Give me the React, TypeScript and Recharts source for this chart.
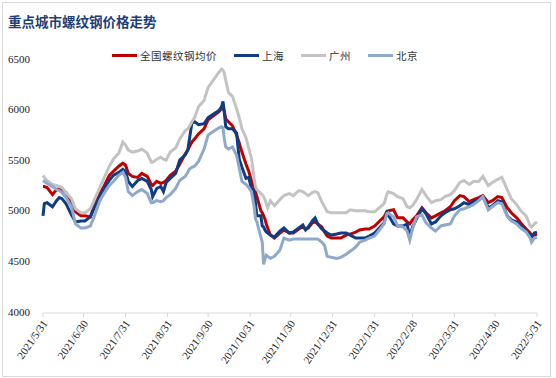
import React from 'react';
import { LineChart, Line, XAxis, YAxis } from 'recharts';

// trading dates sampled from the chart (Excel date axis)
const dates = [
  '2021/5/31', '2021/6/1', '2021/6/3', '2021/6/7', '2021/6/10', '2021/6/12', '2021/6/14', '2021/6/17', '2021/6/21', '2021/6/24', '2021/6/28',
  '2021/7/1', '2021/7/5', '2021/7/8', '2021/7/12', '2021/7/15', '2021/7/19', '2021/7/22', '2021/7/26', '2021/7/29', '2021/7/31',
  '2021/8/2', '2021/8/5', '2021/8/9', '2021/8/12', '2021/8/16', '2021/8/19', '2021/8/20', '2021/8/23', '2021/8/26', '2021/8/28', '2021/8/30',
  '2021/9/2', '2021/9/6', '2021/9/9', '2021/9/13', '2021/9/15', '2021/9/16', '2021/9/18', '2021/9/20', '2021/9/23', '2021/9/27', '2021/9/30',
  '2021/10/8', '2021/10/10', '2021/10/11', '2021/10/12', '2021/10/13', '2021/10/15', '2021/10/18', '2021/10/21', '2021/10/23', '2021/10/25', '2021/10/28', '2021/10/30',
  '2021/11/1', '2021/11/3', '2021/11/4', '2021/11/5', '2021/11/8', '2021/11/9', '2021/11/10', '2021/11/11', '2021/11/12', '2021/11/13', '2021/11/15', '2021/11/18', '2021/11/22', '2021/11/25', '2021/11/29',
  '2021/12/2', '2021/12/6', '2021/12/9', '2021/12/11', '2021/12/13', '2021/12/16', '2021/12/18', '2021/12/20', '2021/12/23', '2021/12/25', '2021/12/27', '2021/12/30',
  '2022/1/3', '2022/1/6', '2022/1/10', '2022/1/13', '2022/1/17', '2022/1/20', '2022/1/24', '2022/1/27', '2022/1/31',
  '2022/2/7', '2022/2/9', '2022/2/10', '2022/2/14', '2022/2/17', '2022/2/21', '2022/2/24', '2022/2/26', '2022/2/28',
  '2022/3/3', '2022/3/7', '2022/3/10', '2022/3/14', '2022/3/17', '2022/3/21', '2022/3/24', '2022/3/28', '2022/3/31',
  '2022/4/4', '2022/4/7', '2022/4/11', '2022/4/14', '2022/4/18', '2022/4/21', '2022/4/25', '2022/4/28',
  '2022/5/2', '2022/5/5', '2022/5/9', '2022/5/12', '2022/5/16', '2022/5/19', '2022/5/23', '2022/5/26', '2022/5/27', '2022/5/29', '2022/5/31',
];

const national = [
  5250, 5250, 5240, 5170, 5220, 5230, 5220, 5190, 5100, 5000, 4960,
  4960, 4950, 5070, 5180, 5250, 5360, 5400, 5450, 5480, 5460,
  5380, 5350, 5340, 5380, 5350, 5270, 5260, 5300, 5280, 5290, 5310,
  5360, 5400, 5470, 5570, 5610, 5640, 5690, 5720, 5770, 5820, 5910,
  5990, 6020, 6040, 5990, 5920, 5890, 5850, 5760, 5680, 5590, 5470, 5400,
  5310, 5240, 5200, 5150, 5010, 4990, 4960, 4930, 4880, 4840, 4770, 4740, 4790, 4820, 4790,
  4790, 4830, 4850, 4830, 4840, 4890, 4900, 4880, 4850, 4800, 4760, 4740,
  4740, 4740, 4770, 4780, 4800, 4820, 4830, 4830, 4860,
  4950, 5000, 5010, 5020, 4940, 4940, 4900, 4880, 4920,
  4960, 5040, 4990, 4940, 4960, 4990, 5010, 5050, 5110,
  5160, 5150, 5100, 5120, 5140, 5160, 5090, 5110,
  5150, 5140, 5040, 4990, 4940, 4890, 4830, 4790, 4760, 4770, 4780,
];

const shanghai = [
  4960, 5080, 5090, 5050, 5110, 5140, 5130, 5080, 4970, 4900, 4910,
  4910, 4950, 5040, 5150, 5230, 5310, 5360, 5390, 5420, 5400,
  5300, 5250, 5310, 5330, 5300, 5220, 5150, 5230, 5250, 5200, 5290,
  5330, 5380, 5510, 5560, 5610, 5700, 5880, 5890, 5860, 5870, 5930,
  6000, 6040, 6090, 5980, 5840, 5820, 5820, 5780, 5520, 5440, 5330, 5340,
  5230, 5200, 5080, 4960, 4960, 4860, 4850, 4820, 4800, 4790, 4770, 4750, 4810, 4840, 4790,
  4800, 4840, 4870, 4820, 4850, 4910, 4940, 4880, 4830, 4810, 4790, 4770,
  4780, 4790, 4790, 4770, 4740, 4740, 4740, 4760, 4790,
  4890, 4990, 4970, 4880, 4860, 4860, 4880, 4750, 4850,
  4930, 5030, 4980, 4880, 4900, 4960, 4990, 5020, 5030,
  5060, 5090, 5070, 5100, 5120, 5150, 5040, 5060,
  5110, 5100, 4960, 4920, 4900, 4860, 4810, 4770, 4750, 4790, 4800,
];

const guangzhou = [
  5360, 5340, 5310, 5270, 5260, 5250, 5240, 5190, 5130, 5030, 4990,
  4990, 5030, 5120, 5240, 5330, 5450, 5520, 5580, 5690, 5660,
  5610, 5590, 5600, 5620, 5580, 5490, 5490, 5520, 5540, 5520, 5510,
  5590, 5630, 5720, 5800, 5820, 5840, 5890, 5930, 6040, 6100, 6230,
  6380, 6410, 6400, 6370, 6300, 6180, 6140, 6020, 5930, 5820, 5730, 5630,
  5530, 5330, 5250, 5220, 5180, 5170, 5150, 5120, 5080, 5040, 5110, 5060, 5120, 5160, 5180,
  5160, 5210, 5200, 5180, 5160, 5190, 5200, 5190, 5100, 5050, 5000, 4990,
  4990, 4990, 4990, 5020, 5010, 5010, 5010, 5000, 5000,
  5080, 5170, 5200, 5180, 5150, 5130, 5050, 5040, 5060,
  5120, 5220, 5160, 5090, 5110, 5120, 5150, 5170, 5210,
  5290, 5310, 5270, 5300, 5300, 5350, 5260, 5290,
  5320, 5340, 5220, 5130, 5070, 5010, 4960, 4860, 4850, 4880, 4900,
];

const beijing = [
  5310, 5300, 5280, 5250, 5220, 5210, 5190, 5140, 5050, 4880, 4840,
  4840, 4860, 4960, 5110, 5180, 5260, 5300, 5360, 5390, 5340,
  5200, 5160, 5200, 5220, 5180, 5090, 5090, 5110, 5100, 5110, 5140,
  5170, 5230, 5310, 5350, 5390, 5420, 5440, 5450, 5500, 5620, 5760,
  5830, 5840, 5830, 5720, 5640, 5620, 5640, 5560, 5430, 5300, 5270, 5240,
  5200, 5050, 4930, 4900, 4750, 4700, 4480, 4530, 4570, 4560, 4540, 4560, 4620, 4740, 4720,
  4730, 4730, 4730, 4730, 4730, 4730, 4730, 4730, 4700, 4670, 4560, 4550,
  4540, 4550, 4580, 4610, 4650, 4700, 4720, 4740, 4760,
  4880, 4980, 4990, 4950, 4860, 4850, 4810, 4720, 4830,
  4950, 4970, 4890, 4840, 4810, 4860, 4870, 4880, 4960,
  5020, 5030, 5050, 5070, 5110, 5150, 5020, 5050,
  5090, 5080, 4960, 4910, 4880, 4840, 4800, 4740, 4700, 4740, 4750,
];

const tickDates = [
  '2021/5/31', '2021/6/30', '2021/7/31', '2021/8/31', '2021/9/30', '2021/10/31', '2021/11/30',
  '2021/12/31', '2022/1/31', '2022/2/28', '2022/3/31', '2022/4/30', '2022/5/31',
];
const yTicks = [4000, 4500, 5000, 5500, 6000, 6500];

const seriesNames = ['全国螺纹钢均价', '上海', '广州', '北京'];
const seriesColors = ['#C00000', '#0F3C82', '#C3C3C3', '#8FA9CD'];

const serif = "'Liberation Serif', 'Times New Roman', serif";

const dayOf = (s: string) => {
  const [y, m, d] = s.split('/').map(Number);
  return (Date.UTC(y, m - 1, d) - Date.UTC(2021, 4, 31)) / 86400000;
};

const chartData = dates.map((d, i) => ({
  day: dayOf(d),
  national: national[i],
  shanghai: shanghai[i],
  guangzhou: guangzhou[i],
  beijing: beijing[i],
}));
const tickDays = tickDates.map(dayOf);
const keys = ['national', 'shanghai', 'guangzhou', 'beijing'];

const DateTick = ({ x, y, payload }: any) => {
  const label = tickDates[tickDays.indexOf(payload.value)] || '';
  const tx = x + 3;
  const ty = y + 3;
  return (
    <text
      x={tx}
      y={ty}
      transform={`rotate(-55 ${tx} ${ty})`}
      textAnchor="end"
      dominantBaseline="middle"
      style={{ fontSize: 11, fontFamily: serif, fill: '#222' }}
    >
      {label}
    </text>
  );
};

const ValueTick = ({ x, y, payload }: any) => (
  <text x={30} y={y} textAnchor="end" dominantBaseline="middle" style={{ fontSize: 11, fontFamily: serif, fill: '#222' }}>
    {payload.value}
  </text>
);

export default function App() {
  return (
    <div style={{ position: 'absolute', left: 0, top: 0, width: 556, height: 378, background: '#fff', overflow: 'hidden' }}>
      <div style={{ position: 'absolute', left: 2, top: 2, width: 547, height: 373, border: '1px solid #D9D9D9' }} />
      <div
        style={{
          position: 'absolute', left: 8, top: 11, fontSize: 13.5, fontWeight: 700, color: '#1F3F7A',
          fontFamily: "'Noto Sans CJK SC', sans-serif", lineHeight: '20px', whiteSpace: 'nowrap',
        }}
      >
        重点城市螺纹钢价格走势
      </div>

      <LineChart width={556} height={378} data={chartData} margin={{ top: 60, right: 19, bottom: 0, left: 0 }}>
        <XAxis
          dataKey="day"
          type="number"
          domain={[0, 365]}
          ticks={tickDays}
          interval={0}
          height={65}
          stroke="#D9D9D9"
          tickSize={4}
          tick={<DateTick />}
        />
        <YAxis
          domain={[4000, 6500]}
          ticks={yTicks}
          width={43}
          axisLine={false}
          tickLine={false}
          tick={<ValueTick />}
        />
        {keys.map((k, i) => (
          <Line
            key={k}
            dataKey={k}
            name={seriesNames[i]}
            stroke={seriesColors[i]}
            strokeWidth={3}
            dot={false}
            type="linear"
            isAnimationActive={false}
          />
        ))}
      </LineChart>

      {/* Legend */}
      <div
        style={{
          position: 'absolute', left: 112, top: 48, display: 'flex', alignItems: 'center', gap: 17,
          fontFamily: "'Noto Sans CJK SC', sans-serif", fontSize: 10.5, color: '#333', letterSpacing: 0.5,
        }}
      >
        {seriesNames.map((name, i) => (
          <div key={name} style={{ display: 'flex', alignItems: 'center' }}>
            <div style={{ width: 25, height: 3, background: seriesColors[i], marginRight: 3 }} />
            <span>{name}</span>
          </div>
        ))}
      </div>
    </div>
  );
}
